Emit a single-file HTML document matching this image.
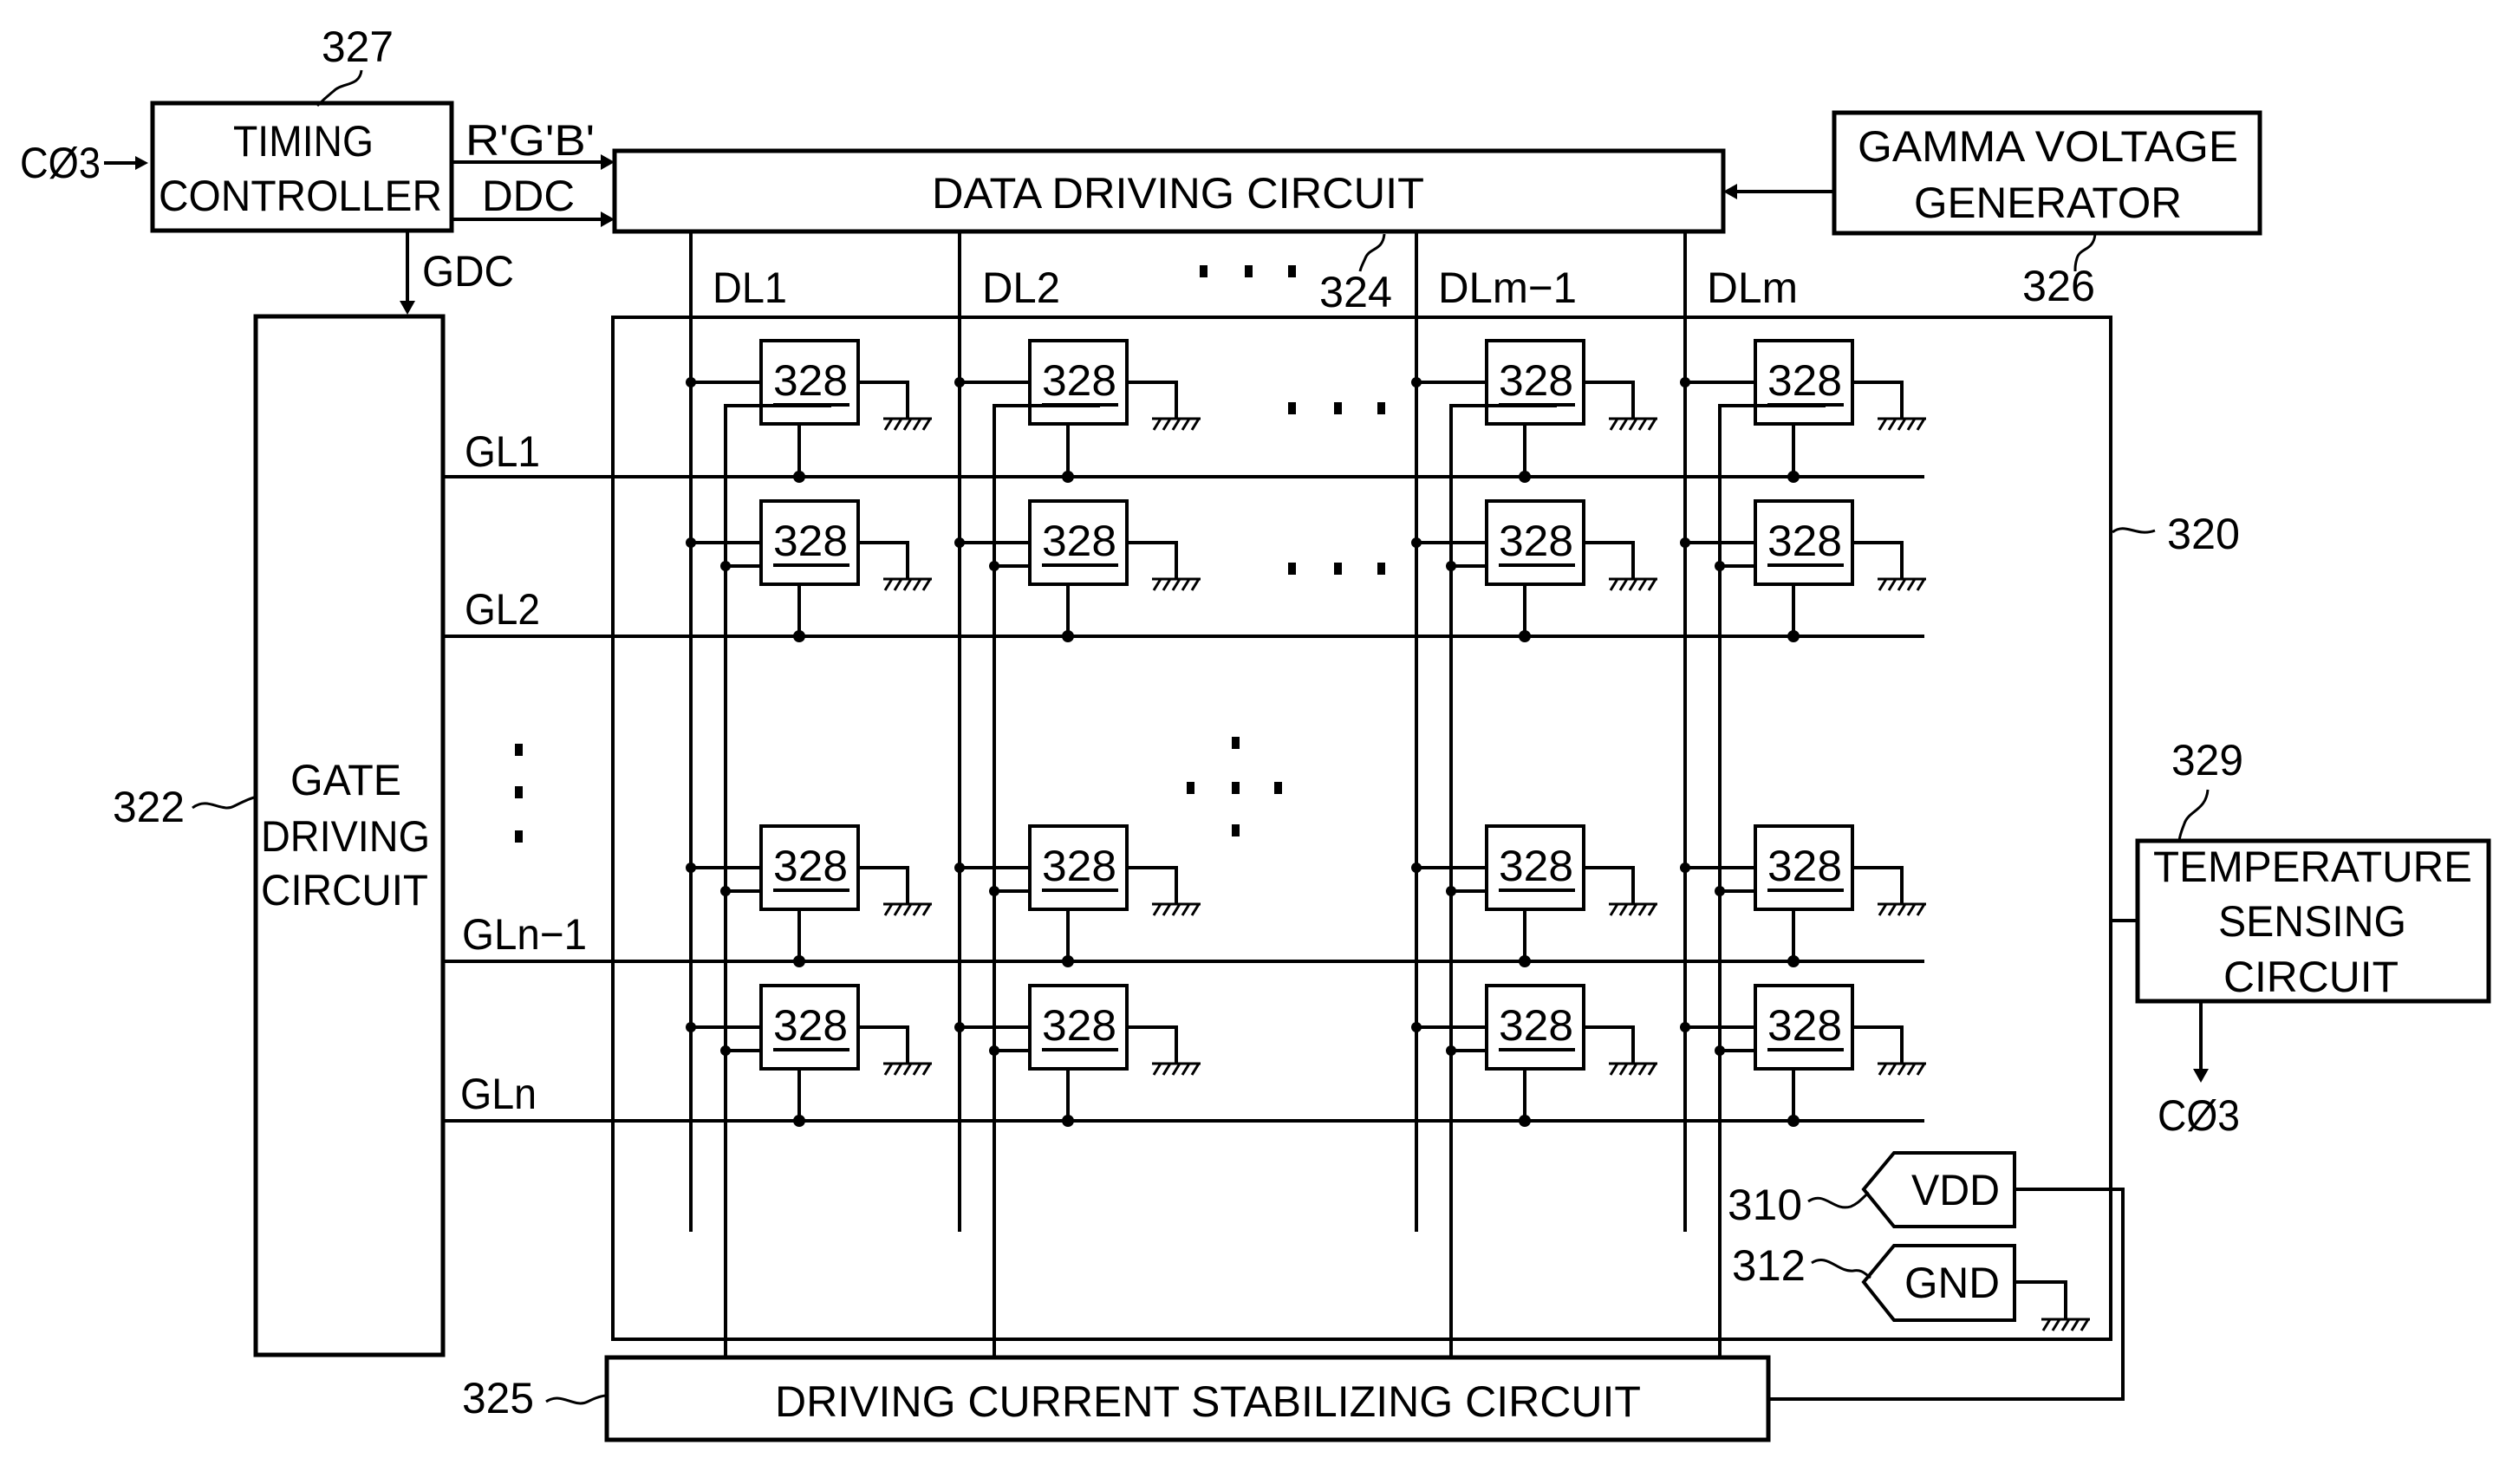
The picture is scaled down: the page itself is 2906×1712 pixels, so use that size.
<!DOCTYPE html>
<html><head><meta charset="utf-8"><style>html,body{margin:0;padding:0;background:#fff}svg{display:block}text{font-family:"Liberation Sans",sans-serif;fill:#000}</style></head><body>
<svg width="2906" height="1712" viewBox="0 0 2906 1712" xmlns="http://www.w3.org/2000/svg">
<defs>
<g id="gnd" stroke="#000" stroke-width="3" fill="none"><line x1="-28" y1="0" x2="28" y2="0"/><line x1="-18" y1="0" x2="-26" y2="13"/><line x1="-7" y1="0" x2="-15" y2="13"/><line x1="4" y1="0" x2="-4" y2="13"/><line x1="15" y1="0" x2="7" y2="13"/><line x1="26" y1="0" x2="18" y2="13"/></g>
</defs>
<rect width="2906" height="1712" fill="#fff"/>
<g stroke="#000" fill="none" stroke-width="5">
<!-- boxes -->
<rect x="176" y="119" width="345" height="147"/>
<rect x="709" y="174" width="1279" height="93"/>
<rect x="2116" y="130" width="491" height="139"/>
<rect x="295" y="365" width="216" height="1198"/>
<rect x="707" y="366" width="1728" height="1179" stroke-width="4"/>
<rect x="700" y="1566" width="1340" height="95"/>
<rect x="2466" y="970" width="405" height="185"/>
</g>
<g stroke="#000" fill="none" stroke-width="4">
<!-- arrows lines -->
<line x1="120" y1="188" x2="160" y2="188"/>
<line x1="521" y1="187" x2="695" y2="187"/>
<line x1="521" y1="253" x2="695" y2="253"/>
<line x1="470" y1="266" x2="470" y2="350"/>
<line x1="2116" y1="221" x2="2002" y2="221"/>
<line x1="2539" y1="1155" x2="2539" y2="1236"/>
<line x1="2433" y1="1062" x2="2466" y2="1062"/>
<!-- DL verticals -->
<line x1="797" y1="267" x2="797" y2="1421"/>
<line x1="1107" y1="267" x2="1107" y2="1421"/>
<line x1="1634" y1="267" x2="1634" y2="1421"/>
<line x1="1944" y1="267" x2="1944" y2="1421"/>
<!-- second verticals -->
<polyline points="959,468 837,468 837,1566"/>
<polyline points="1269,468 1147,468 1147,1566"/>
<polyline points="1796,468 1674,468 1674,1566"/>
<polyline points="2106,468 1984,468 1984,1566"/>
<!-- gate lines -->
<line x1="511" y1="550" x2="2220" y2="550"/>
<line x1="511" y1="734" x2="2220" y2="734"/>
<line x1="511" y1="1109" x2="2220" y2="1109"/>
<line x1="511" y1="1293" x2="2220" y2="1293"/>
<!-- VDD / GND -->
<path d="M2185,1330 L2324,1330 L2324,1415 L2185,1415 L2150,1372 Z"/>
<path d="M2185,1437 L2324,1437 L2324,1523 L2185,1523 L2150,1479 Z"/>
<polyline points="2324,1372 2449,1372 2449,1614 2040,1614"/>
<polyline points="2324,1479 2383,1479 2383,1522"/>
<!-- leaders -->
<path d="M417,81 C415,100 395,95 385,105 C375,113 370,118 366,122" stroke-width="3"/>
<path d="M1597,270 C1595,290 1580,285 1575,298 C1572,305 1570,308 1569,313" stroke-width="3"/>
<path d="M2417,270 C2415,290 2400,285 2396,298 C2394,305 2394,308 2394,313" stroke-width="3"/>
<path d="M2547,911 C2545,935 2525,935 2520,950 C2517,958 2515,962 2514,970" stroke-width="3"/>
<path d="M2437,614 C2452,602 2465,620 2486,612" stroke-width="3"/>
<path d="M222,932 C240,918 255,938 270,930 C280,925 286,922 293,920" stroke-width="3"/>
<path d="M630,1617 C648,1605 662,1625 678,1617 C688,1612 694,1610 700,1610" stroke-width="3"/>
<path d="M2086,1386 C2105,1373 2115,1398 2135,1392 C2145,1388 2150,1380 2156,1376" stroke-width="3"/>
<path d="M2090,1457 C2108,1445 2120,1468 2138,1466 C2148,1464 2152,1470 2158,1474" stroke-width="3"/>
</g>
<use href="#gnd" x="2383" y="1522"/>
<g fill="#000">
<polygon points="171,188 156,180 156,196"/>
<polygon points="709,187 693,178 693,196"/>
<polygon points="709,253 693,244 693,262"/>
<polygon points="470,363 461,347 479,347"/>
<polygon points="1988,221 2004,212 2004,230"/>
<polygon points="2539,1249 2530,1233 2548,1233"/>
<!-- dots -->
<rect x="594" y="858" width="9" height="14"/><rect x="594" y="907" width="9" height="14"/><rect x="594" y="958" width="9" height="14"/>
<rect x="1384" y="306" width="9" height="14"/><rect x="1436" y="306" width="9" height="14"/><rect x="1486" y="306" width="9" height="14"/>
<rect x="1486" y="464" width="9" height="14"/><rect x="1539" y="464" width="9" height="14"/><rect x="1589" y="464" width="9" height="14"/>
<rect x="1486" y="649" width="9" height="14"/><rect x="1539" y="649" width="9" height="14"/><rect x="1589" y="649" width="9" height="14"/>
<rect x="1421" y="850" width="9" height="14"/><rect x="1369" y="902" width="9" height="14"/><rect x="1421" y="902" width="9" height="14"/><rect x="1470" y="902" width="9" height="14"/><rect x="1421" y="951" width="9" height="14"/>
</g>
<!-- cell template rows -->
<g id="cellsAll">
<g transform="translate(797,393)"><rect x="81" y="0" width="112" height="96" fill="none" stroke="#000" stroke-width="4"/><text x="95" y="63" font-size="50" textLength="86" lengthAdjust="spacingAndGlyphs">328</text><g stroke="#000" stroke-width="4" fill="none"><line x1="95" y1="74" x2="183" y2="74"/><line x1="0" y1="48" x2="81" y2="48"/><line x1="125" y1="96" x2="125" y2="157"/><polyline points="193,48 250,48 250,90"/></g><circle cx="0" cy="48" r="6"/><circle cx="125" cy="157" r="7"/><use href="#gnd" x="250" y="90"/></g>
</g>
<g fill="#000">
<!-- Row 1 -->
<g transform="translate(1107,393)"><rect x="81" y="0" width="112" height="96" fill="none" stroke="#000" stroke-width="4"/><text x="95" y="63" font-size="50" textLength="86" lengthAdjust="spacingAndGlyphs">328</text><g stroke="#000" stroke-width="4" fill="none"><line x1="95" y1="74" x2="183" y2="74"/><line x1="0" y1="48" x2="81" y2="48"/><line x1="125" y1="96" x2="125" y2="157"/><polyline points="193,48 250,48 250,90"/></g><circle cx="0" cy="48" r="6"/><circle cx="125" cy="157" r="7"/><use href="#gnd" x="250" y="90"/></g>
<g transform="translate(1634,393)"><rect x="81" y="0" width="112" height="96" fill="none" stroke="#000" stroke-width="4"/><text x="95" y="63" font-size="50" textLength="86" lengthAdjust="spacingAndGlyphs">328</text><g stroke="#000" stroke-width="4" fill="none"><line x1="95" y1="74" x2="183" y2="74"/><line x1="0" y1="48" x2="81" y2="48"/><line x1="125" y1="96" x2="125" y2="157"/><polyline points="193,48 250,48 250,90"/></g><circle cx="0" cy="48" r="6"/><circle cx="125" cy="157" r="7"/><use href="#gnd" x="250" y="90"/></g>
<g transform="translate(1944,393)"><rect x="81" y="0" width="112" height="96" fill="none" stroke="#000" stroke-width="4"/><text x="95" y="63" font-size="50" textLength="86" lengthAdjust="spacingAndGlyphs">328</text><g stroke="#000" stroke-width="4" fill="none"><line x1="95" y1="74" x2="183" y2="74"/><line x1="0" y1="48" x2="81" y2="48"/><line x1="125" y1="96" x2="125" y2="157"/><polyline points="193,48 250,48 250,90"/></g><circle cx="0" cy="48" r="6"/><circle cx="125" cy="157" r="7"/><use href="#gnd" x="250" y="90"/></g>
</g>
<g fill="#000">
<!-- Rows 2-4: include second-line link with dot -->
<g transform="translate(797,578)"><rect x="81" y="0" width="112" height="96" fill="none" stroke="#000" stroke-width="4"/><text x="95" y="63" font-size="50" textLength="86" lengthAdjust="spacingAndGlyphs">328</text><g stroke="#000" stroke-width="4" fill="none"><line x1="95" y1="74" x2="183" y2="74"/><line x1="0" y1="48" x2="81" y2="48"/><line x1="40" y1="75" x2="81" y2="75"/><line x1="125" y1="96" x2="125" y2="156"/><polyline points="193,48 250,48 250,90"/></g><circle cx="0" cy="48" r="6"/><circle cx="40" cy="75" r="6"/><circle cx="125" cy="156" r="7"/><use href="#gnd" x="250" y="90"/></g>
<g transform="translate(1107,578)"><rect x="81" y="0" width="112" height="96" fill="none" stroke="#000" stroke-width="4"/><text x="95" y="63" font-size="50" textLength="86" lengthAdjust="spacingAndGlyphs">328</text><g stroke="#000" stroke-width="4" fill="none"><line x1="95" y1="74" x2="183" y2="74"/><line x1="0" y1="48" x2="81" y2="48"/><line x1="40" y1="75" x2="81" y2="75"/><line x1="125" y1="96" x2="125" y2="156"/><polyline points="193,48 250,48 250,90"/></g><circle cx="0" cy="48" r="6"/><circle cx="40" cy="75" r="6"/><circle cx="125" cy="156" r="7"/><use href="#gnd" x="250" y="90"/></g>
<g transform="translate(1634,578)"><rect x="81" y="0" width="112" height="96" fill="none" stroke="#000" stroke-width="4"/><text x="95" y="63" font-size="50" textLength="86" lengthAdjust="spacingAndGlyphs">328</text><g stroke="#000" stroke-width="4" fill="none"><line x1="95" y1="74" x2="183" y2="74"/><line x1="0" y1="48" x2="81" y2="48"/><line x1="40" y1="75" x2="81" y2="75"/><line x1="125" y1="96" x2="125" y2="156"/><polyline points="193,48 250,48 250,90"/></g><circle cx="0" cy="48" r="6"/><circle cx="40" cy="75" r="6"/><circle cx="125" cy="156" r="7"/><use href="#gnd" x="250" y="90"/></g>
<g transform="translate(1944,578)"><rect x="81" y="0" width="112" height="96" fill="none" stroke="#000" stroke-width="4"/><text x="95" y="63" font-size="50" textLength="86" lengthAdjust="spacingAndGlyphs">328</text><g stroke="#000" stroke-width="4" fill="none"><line x1="95" y1="74" x2="183" y2="74"/><line x1="0" y1="48" x2="81" y2="48"/><line x1="40" y1="75" x2="81" y2="75"/><line x1="125" y1="96" x2="125" y2="156"/><polyline points="193,48 250,48 250,90"/></g><circle cx="0" cy="48" r="6"/><circle cx="40" cy="75" r="6"/><circle cx="125" cy="156" r="7"/><use href="#gnd" x="250" y="90"/></g>

<g transform="translate(797,953)"><rect x="81" y="0" width="112" height="96" fill="none" stroke="#000" stroke-width="4"/><text x="95" y="63" font-size="50" textLength="86" lengthAdjust="spacingAndGlyphs">328</text><g stroke="#000" stroke-width="4" fill="none"><line x1="95" y1="74" x2="183" y2="74"/><line x1="0" y1="48" x2="81" y2="48"/><line x1="40" y1="75" x2="81" y2="75"/><line x1="125" y1="96" x2="125" y2="156"/><polyline points="193,48 250,48 250,90"/></g><circle cx="0" cy="48" r="6"/><circle cx="40" cy="75" r="6"/><circle cx="125" cy="156" r="7"/><use href="#gnd" x="250" y="90"/></g>
<g transform="translate(1107,953)"><rect x="81" y="0" width="112" height="96" fill="none" stroke="#000" stroke-width="4"/><text x="95" y="63" font-size="50" textLength="86" lengthAdjust="spacingAndGlyphs">328</text><g stroke="#000" stroke-width="4" fill="none"><line x1="95" y1="74" x2="183" y2="74"/><line x1="0" y1="48" x2="81" y2="48"/><line x1="40" y1="75" x2="81" y2="75"/><line x1="125" y1="96" x2="125" y2="156"/><polyline points="193,48 250,48 250,90"/></g><circle cx="0" cy="48" r="6"/><circle cx="40" cy="75" r="6"/><circle cx="125" cy="156" r="7"/><use href="#gnd" x="250" y="90"/></g>
<g transform="translate(1634,953)"><rect x="81" y="0" width="112" height="96" fill="none" stroke="#000" stroke-width="4"/><text x="95" y="63" font-size="50" textLength="86" lengthAdjust="spacingAndGlyphs">328</text><g stroke="#000" stroke-width="4" fill="none"><line x1="95" y1="74" x2="183" y2="74"/><line x1="0" y1="48" x2="81" y2="48"/><line x1="40" y1="75" x2="81" y2="75"/><line x1="125" y1="96" x2="125" y2="156"/><polyline points="193,48 250,48 250,90"/></g><circle cx="0" cy="48" r="6"/><circle cx="40" cy="75" r="6"/><circle cx="125" cy="156" r="7"/><use href="#gnd" x="250" y="90"/></g>
<g transform="translate(1944,953)"><rect x="81" y="0" width="112" height="96" fill="none" stroke="#000" stroke-width="4"/><text x="95" y="63" font-size="50" textLength="86" lengthAdjust="spacingAndGlyphs">328</text><g stroke="#000" stroke-width="4" fill="none"><line x1="95" y1="74" x2="183" y2="74"/><line x1="0" y1="48" x2="81" y2="48"/><line x1="40" y1="75" x2="81" y2="75"/><line x1="125" y1="96" x2="125" y2="156"/><polyline points="193,48 250,48 250,90"/></g><circle cx="0" cy="48" r="6"/><circle cx="40" cy="75" r="6"/><circle cx="125" cy="156" r="7"/><use href="#gnd" x="250" y="90"/></g>

<g transform="translate(797,1137)"><rect x="81" y="0" width="112" height="96" fill="none" stroke="#000" stroke-width="4"/><text x="95" y="63" font-size="50" textLength="86" lengthAdjust="spacingAndGlyphs">328</text><g stroke="#000" stroke-width="4" fill="none"><line x1="95" y1="74" x2="183" y2="74"/><line x1="0" y1="48" x2="81" y2="48"/><line x1="40" y1="75" x2="81" y2="75"/><line x1="125" y1="96" x2="125" y2="156"/><polyline points="193,48 250,48 250,90"/></g><circle cx="0" cy="48" r="6"/><circle cx="40" cy="75" r="6"/><circle cx="125" cy="156" r="7"/><use href="#gnd" x="250" y="90"/></g>
<g transform="translate(1107,1137)"><rect x="81" y="0" width="112" height="96" fill="none" stroke="#000" stroke-width="4"/><text x="95" y="63" font-size="50" textLength="86" lengthAdjust="spacingAndGlyphs">328</text><g stroke="#000" stroke-width="4" fill="none"><line x1="95" y1="74" x2="183" y2="74"/><line x1="0" y1="48" x2="81" y2="48"/><line x1="40" y1="75" x2="81" y2="75"/><line x1="125" y1="96" x2="125" y2="156"/><polyline points="193,48 250,48 250,90"/></g><circle cx="0" cy="48" r="6"/><circle cx="40" cy="75" r="6"/><circle cx="125" cy="156" r="7"/><use href="#gnd" x="250" y="90"/></g>
<g transform="translate(1634,1137)"><rect x="81" y="0" width="112" height="96" fill="none" stroke="#000" stroke-width="4"/><text x="95" y="63" font-size="50" textLength="86" lengthAdjust="spacingAndGlyphs">328</text><g stroke="#000" stroke-width="4" fill="none"><line x1="95" y1="74" x2="183" y2="74"/><line x1="0" y1="48" x2="81" y2="48"/><line x1="40" y1="75" x2="81" y2="75"/><line x1="125" y1="96" x2="125" y2="156"/><polyline points="193,48 250,48 250,90"/></g><circle cx="0" cy="48" r="6"/><circle cx="40" cy="75" r="6"/><circle cx="125" cy="156" r="7"/><use href="#gnd" x="250" y="90"/></g>
<g transform="translate(1944,1137)"><rect x="81" y="0" width="112" height="96" fill="none" stroke="#000" stroke-width="4"/><text x="95" y="63" font-size="50" textLength="86" lengthAdjust="spacingAndGlyphs">328</text><g stroke="#000" stroke-width="4" fill="none"><line x1="95" y1="74" x2="183" y2="74"/><line x1="0" y1="48" x2="81" y2="48"/><line x1="40" y1="75" x2="81" y2="75"/><line x1="125" y1="96" x2="125" y2="156"/><polyline points="193,48 250,48 250,90"/></g><circle cx="0" cy="48" r="6"/><circle cx="40" cy="75" r="6"/><circle cx="125" cy="156" r="7"/><use href="#gnd" x="250" y="90"/></g>
</g>
<!-- labels -->
<g font-size="50" lengthAdjust="spacingAndGlyphs">
<text x="371" y="71" textLength="83" lengthAdjust="spacingAndGlyphs">327</text>
<text x="23" y="205" textLength="93" lengthAdjust="spacingAndGlyphs">CØ3</text>
<text x="269" y="180" textLength="162" lengthAdjust="spacingAndGlyphs">TIMING</text>
<text x="183" y="243" textLength="327" lengthAdjust="spacingAndGlyphs">CONTROLLER</text>
<text x="537" y="179" textLength="149" lengthAdjust="spacingAndGlyphs">R'G'B'</text>
<text x="556" y="243" textLength="107" lengthAdjust="spacingAndGlyphs">DDC</text>
<text x="1075" y="240" textLength="568" lengthAdjust="spacingAndGlyphs">DATA DRIVING CIRCUIT</text>
<text x="2143" y="186" textLength="439" lengthAdjust="spacingAndGlyphs">GAMMA VOLTAGE</text>
<text x="2208" y="251" textLength="309" lengthAdjust="spacingAndGlyphs">GENERATOR</text>
<text x="487" y="330" textLength="106" lengthAdjust="spacingAndGlyphs">GDC</text>
<text x="822" y="349" textLength="86" lengthAdjust="spacingAndGlyphs">DL1</text>
<text x="1133" y="349" textLength="90" lengthAdjust="spacingAndGlyphs">DL2</text>
<text x="1522" y="354" textLength="84" lengthAdjust="spacingAndGlyphs">324</text>
<text x="1659" y="349" textLength="160" lengthAdjust="spacingAndGlyphs">DLm−1</text>
<text x="1969" y="349" textLength="105" lengthAdjust="spacingAndGlyphs">DLm</text>
<text x="2333" y="347" textLength="84" lengthAdjust="spacingAndGlyphs">326</text>
<text x="2500" y="633" textLength="84" lengthAdjust="spacingAndGlyphs">320</text>
<text x="536" y="538" textLength="87" lengthAdjust="spacingAndGlyphs">GL1</text>
<text x="536" y="720" textLength="87" lengthAdjust="spacingAndGlyphs">GL2</text>
<text x="533" y="1095" textLength="144" lengthAdjust="spacingAndGlyphs">GLn−1</text>
<text x="531" y="1279" textLength="88" lengthAdjust="spacingAndGlyphs">GLn</text>
<text x="130" y="948" textLength="83" lengthAdjust="spacingAndGlyphs">322</text>
<text x="335" y="917" textLength="128" lengthAdjust="spacingAndGlyphs">GATE</text>
<text x="301" y="982" textLength="195" lengthAdjust="spacingAndGlyphs">DRIVING</text>
<text x="301" y="1044" textLength="193" lengthAdjust="spacingAndGlyphs">CIRCUIT</text>
<text x="533" y="1630" textLength="83" lengthAdjust="spacingAndGlyphs">325</text>
<text x="894" y="1634" textLength="999" lengthAdjust="spacingAndGlyphs">DRIVING CURRENT STABILIZING CIRCUIT</text>
<text x="2505" y="894" textLength="83" lengthAdjust="spacingAndGlyphs">329</text>
<text x="2484" y="1017" textLength="368" lengthAdjust="spacingAndGlyphs">TEMPERATURE</text>
<text x="2559" y="1080" textLength="217" lengthAdjust="spacingAndGlyphs">SENSING</text>
<text x="2565" y="1144" textLength="202" lengthAdjust="spacingAndGlyphs">CIRCUIT</text>
<text x="2489" y="1304" textLength="95" lengthAdjust="spacingAndGlyphs">CØ3</text>
<text x="1993" y="1407" textLength="86" lengthAdjust="spacingAndGlyphs">310</text>
<text x="1998" y="1477" textLength="85" lengthAdjust="spacingAndGlyphs">312</text>
<text x="2205" y="1390" textLength="102" lengthAdjust="spacingAndGlyphs">VDD</text>
<text x="2197" y="1497" textLength="110" lengthAdjust="spacingAndGlyphs">GND</text>
</g>
</svg>
</body></html>
